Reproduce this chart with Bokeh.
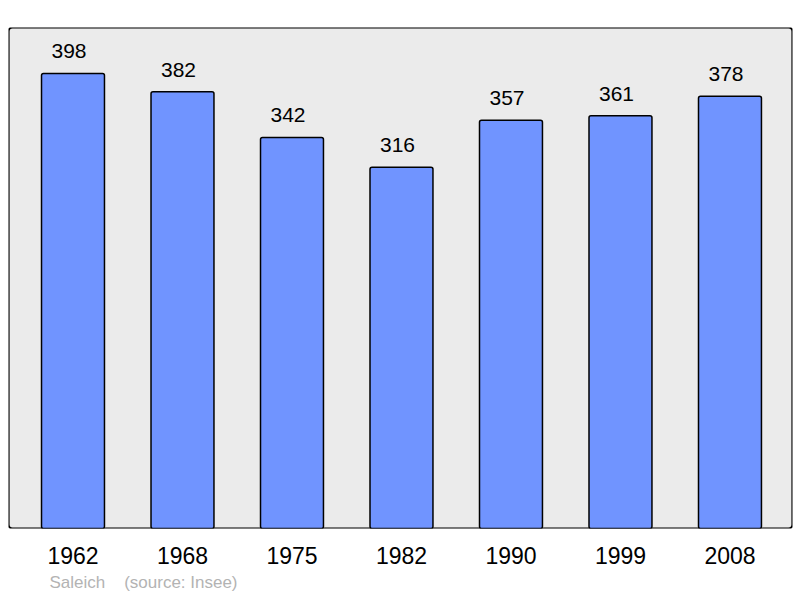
from bokeh.plotting import figure
from bokeh.models import FixedTicker, Title, BoxAnnotation, Range1d, ColumnDataSource
from bokeh.core.properties import value
from bokeh.embed import file_html
from bokeh.resources import INLINE

years = ["1962", "1968", "1975", "1982", "1990", "1999", "2008"]
population = [398, 382, 342, 316, 357, 361, 378]
commune = "Saleich"
source_note = "(source: Insee)"

FONT = "Liberation Sans"
xs = list(range(len(years)))
src = ColumnDataSource(dict(x=xs, top=population, lab=[str(v) for v in population]))

p = figure(width=800, height=598, output_backend="svg", toolbar_location=None,
           x_range=Range1d(-0.589, 6.571), y_range=Range1d(0, 438.2),
           y_axis_location=None, min_border_left=8, min_border_right=8,
           min_border_top=27, min_border_bottom=70)
p.background_fill_color = None
p.border_fill_color = "white"
p.outline_line_color = None
p.xgrid.visible = False
p.ygrid.visible = False

bg = BoxAnnotation(fill_color="#ebebeb", fill_alpha=1, line_color="black", line_alpha=1,
                   line_width=2.2, border_radius=4, level="underlay")
p.add_layout(bg)

p.vbar(x="x", top="top", bottom=0, width=0.575, source=src, fill_color="#7094ff",
       line_color="black", line_width=1.5, border_radius=2)

p.text(x="x", y="top", text="lab", source=src, x_offset=-4, y_offset=-22,
       text_align="center", text_baseline="alphabetic",
       text_font=value(FONT), text_font_size="21px", text_color="black")

ax = p.xaxis[0]
ax.ticker = FixedTicker(ticks=xs)
ax.major_label_overrides = {i: y for i, y in zip(xs, years)}
ax.axis_line_color = None
ax.major_tick_line_color = None
ax.minor_tick_line_color = None
ax.major_label_text_font = FONT
ax.major_label_text_font_size = "23px"
ax.major_label_text_color = "black"
ax.major_label_standoff = 12

footer = Title(text=commune + "\u00a0" * 4 + source_note, align="left", offset=41,
               text_font=FONT, text_font_size="17px", text_color="#b3b3b3",
               text_font_style="normal", standoff=9)
p.add_layout(footer, "below")

open("out.html", "w").write(file_html(p, INLINE))
